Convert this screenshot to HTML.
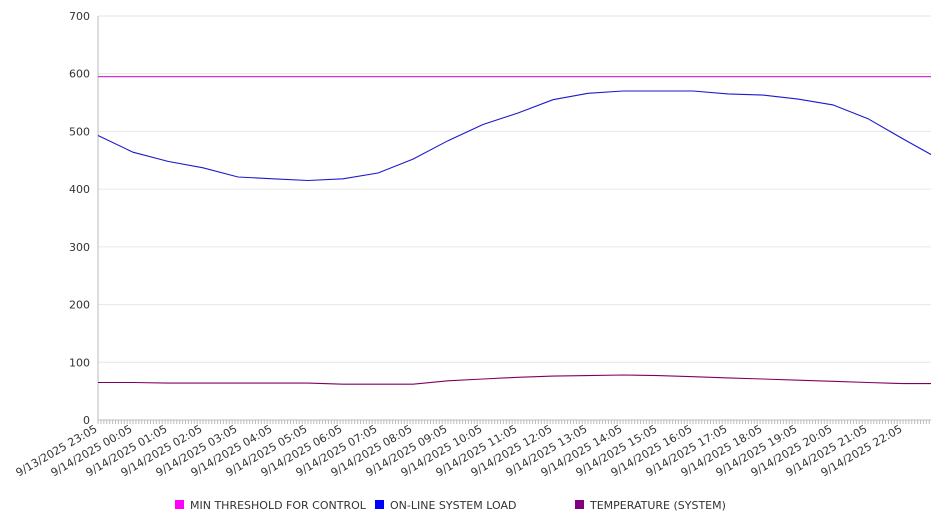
<!DOCTYPE html>
<html><head><meta charset="utf-8"><style>
body{margin:0;background:#fff;font-family:"DejaVu Sans","Liberation Sans",sans-serif;}
svg text{font-family:"DejaVu Sans","Liberation Sans",sans-serif;font-size:11px;fill:#333;}
</style></head><body>
<svg id="c" width="946" height="526"></svg>
<script>
const hours = [0,1,2,3,4,5,6,7,8,9,10,11,12,13,14,15,16,17,18,19,20,21,22,23,23.8];
const loadValues = [493,464,448,437,421,418,415,418,428,452,484,512,532,555,566,570,570,570,565,563,556,546,522,487,460];
const tempValues = [65,65,64,64,64,64,64,62,62,62,68,71,74,76,77,78,77,75,73,71,69,67,65,63,63];
const thresholdValue = 595;
const yTicks = [0,100,200,300,400,500,600,700];
const xTickLabels = ["9/13/2025 23:05","9/14/2025 00:05","9/14/2025 01:05","9/14/2025 02:05","9/14/2025 03:05","9/14/2025 04:05","9/14/2025 05:05","9/14/2025 06:05","9/14/2025 07:05","9/14/2025 08:05","9/14/2025 09:05","9/14/2025 10:05","9/14/2025 11:05","9/14/2025 12:05","9/14/2025 13:05","9/14/2025 14:05","9/14/2025 15:05","9/14/2025 16:05","9/14/2025 17:05","9/14/2025 18:05","9/14/2025 19:05","9/14/2025 20:05","9/14/2025 21:05","9/14/2025 22:05"];
const legendLabels = ["MIN THRESHOLD FOR CONTROL","ON-LINE SYSTEM LOAD","TEMPERATURE (SYSTEM)"];

const NS="http://www.w3.org/2000/svg", svg=document.getElementById('c');
const X0=98,X1=931,Y0=420,Y1=16,HMAX=23.8;
const xs=h=>X0+(h/HMAX)*(X1-X0);
const ys=v=>Y0-(v/700)*(Y0-Y1);
function mk(t,a,p){const e=document.createElementNS(NS,t);for(const k in a)e.setAttribute(k,a[k]);(p||svg).appendChild(e);return e;}

yTicks.forEach(v=>{
  const g=mk('line',{x1:X0,x2:X1,y1:ys(v),y2:ys(v),stroke:v===0?'#bbb':'#e6e6e6','stroke-width':1});
  
  
  const t=mk('text',{x:90,y:ys(v)+4,'text-anchor':'end'});t.textContent=v;
  
  
});
const ax=mk('line',{x1:X0,x2:X0,y1:Y1,y2:Y0,stroke:'#bbb'});


for(let m=0;m<=HMAX*60;m+=5){
  const tk=mk('line',{x1:xs(m/60),x2:xs(m/60),y1:Y0,y2:Y0+4,stroke:'#bbb'});
  
  
}
xTickLabels.forEach((s,i)=>{
  const x=xs(i);
  const t=mk('text',{x:x,y:Y0+11,'text-anchor':'end',transform:`rotate(-30 ${x} ${Y0+11})`});t.textContent=s;
  
  
});
const th=mk('line',{x1:X0,x2:X1,y1:ys(thresholdValue),y2:ys(thresholdValue),stroke:'#cc33cc','stroke-width':1.2});


function series(vals,color,name){
  const d=vals.map((v,i)=>(i?'L':'M')+xs(hours[i]).toFixed(1)+','+ys(v).toFixed(1)).join('');
  const p=mk('path',{d:d,fill:'none',stroke:color,'stroke-width':1.1});
  
  
}
series(loadValues,'#1a1acc','load-line');
series(tempValues,'#800060','temperature-line');
const lc=['#ff00ff','#0000ff','#800080'],lx=[175,375,575];
legendLabels.forEach((s,i)=>{
  const r=mk('rect',{x:lx[i],y:500,width:9,height:9,fill:lc[i]});
  
  
  const t=mk('text',{x:lx[i]+15,y:509});t.textContent=s;
  
  
});
</script>
</body></html>
